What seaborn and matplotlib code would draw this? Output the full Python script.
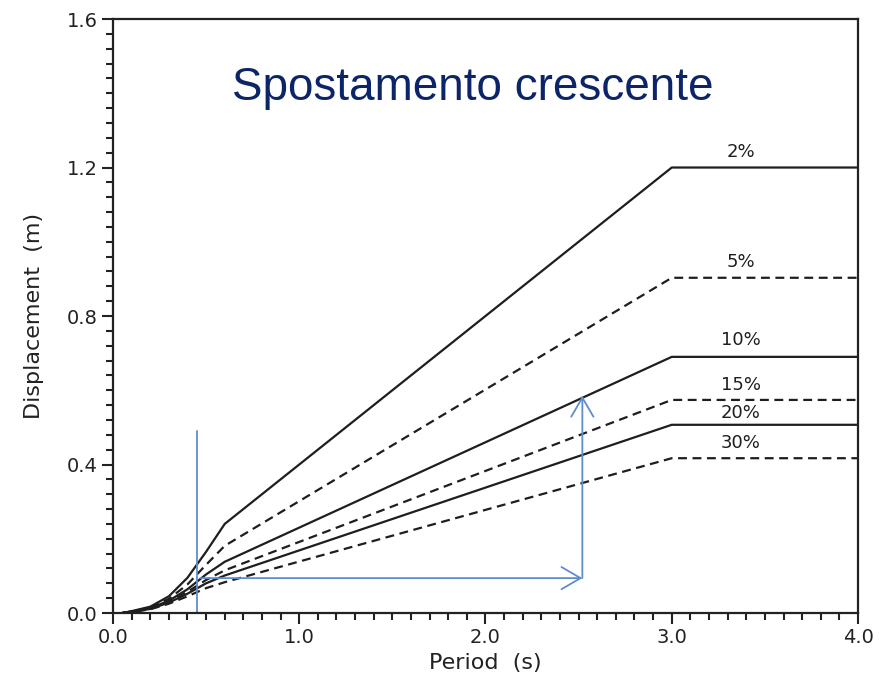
import matplotlib
matplotlib.use("Agg")
import matplotlib.pyplot as plt
from matplotlib.ticker import MultipleLocator, FixedLocator, FixedFormatter
import numpy as np
import pandas as pd
import seaborn as sns

# ---------------- data ----------------
periods = [0.05, 0.1, 0.2, 0.3, 0.4, 0.5, 0.6, 3.0, 4.0]
disp_2 = [0.0, 0.005, 0.017, 0.045, 0.095, 0.165, 0.240, 1.200, 1.200]
disp_5 = [0.0, 0.004, 0.015, 0.038, 0.077, 0.130, 0.181, 0.903, 0.903]
disp_10 = [0.0, 0.004, 0.013, 0.033, 0.064, 0.104, 0.138, 0.690, 0.690]
disp_15 = [0.0, 0.003, 0.012, 0.030, 0.057, 0.089, 0.115, 0.574, 0.574]
disp_20 = [0.0, 0.003, 0.011, 0.028, 0.052, 0.080, 0.101, 0.507, 0.507]
disp_30 = [0.0, 0.003, 0.010, 0.025, 0.045, 0.067, 0.083, 0.417, 0.417]

damping_labels = ["2%", "5%", "10%", "15%", "20%", "30%"]
label_y = [1.243, 0.946, 0.736, 0.615, 0.539, 0.458]
label_x = 3.37

x_ticks = [0.0, 1.0, 2.0, 3.0, 4.0]
x_tick_labels = ["0.0", "1.0", "2.0", "3.0", "4.0"]
y_ticks = [0.0, 0.4, 0.8, 1.2, 1.6]
y_tick_labels = ["0.0", "0.4", "0.8", "1.2", "1.6"]

# annotation (blue) lines
vline_x = 0.45
vline_y = [0.0, 0.49]
harrow_x = [0.47, 2.52]
harrow_y = 0.094
varrow_y = [0.094, 0.585]

title_text = "Spostamento crescente"

# ---------------- styling ----------------
sns.set_style("ticks")
plt.rcParams["font.family"] = ["DejaVu Sans"]

series = [disp_2, disp_5, disp_10, disp_15, disp_20, disp_30]
styles = ["solid", "dashed", "solid", "dashed", "solid", "dashed"]
line_color = "#1e1e1e"
blue = "#5f8ccb"
navy = "#0c2468"

fig = plt.figure(figsize=(8.84, 6.87), dpi=100)
ax = fig.add_axes([0.1278, 0.1077, 0.8428, 0.8646])

for vals, st, lab in zip(series, styles, damping_labels):
    df = pd.DataFrame({"Period": periods, "Disp": vals})
    ls = "-" if st == "solid" else (0, (4.0, 2.5))
    sns.lineplot(data=df, x="Period", y="Disp", ax=ax, color=line_color,
                 linewidth=1.6, linestyle=ls, legend=False)

for lab, yy in zip(damping_labels, label_y):
    ax.text(label_x, yy, lab, ha="center", va="center", fontsize=13,
            color="#1e1e1e")

# blue annotation lines
ax.plot([vline_x, vline_x], vline_y, color=blue, lw=1.3)
ax.annotate("", xy=(harrow_x[1], harrow_y), xytext=(harrow_x[0], harrow_y),
            arrowprops=dict(arrowstyle="->,head_length=0.55,head_width=0.32",
                            mutation_scale=25, lw=1.3, color=blue,
                            shrinkA=0, shrinkB=0))
ax.annotate("", xy=(harrow_x[1], varrow_y[1]), xytext=(harrow_x[1], varrow_y[0]),
            arrowprops=dict(arrowstyle="->,head_length=0.55,head_width=0.32",
                            mutation_scale=25, lw=1.3, color=blue,
                            shrinkA=0, shrinkB=0))

ax.set_xlim(0, 4.0)
ax.set_ylim(0, 1.6)
ax.xaxis.set_major_locator(FixedLocator(x_ticks))
ax.xaxis.set_major_formatter(FixedFormatter(x_tick_labels))
ax.yaxis.set_major_locator(FixedLocator(y_ticks))
ax.yaxis.set_major_formatter(FixedFormatter(y_tick_labels))
ax.xaxis.set_minor_locator(MultipleLocator(0.1))
ax.yaxis.set_minor_locator(MultipleLocator(0.04))
ax.tick_params(which="major", direction="out", length=8, width=1.5,
               labelsize=14, colors="#222222", pad=3)
ax.tick_params(which="minor", direction="out", length=5, width=1.5,
               colors="#222222")
for sp in ax.spines.values():
    sp.set_visible(True)
    sp.set_linewidth(1.6)
    sp.set_color("#222222")

ax.set_xlabel("Period  (s)", fontsize=16, color="#222222", labelpad=4)
ax.set_ylabel("Displacement  (m)", fontsize=16, color="#222222", labelpad=16)

fig.text(232 / 884, 1 - 100 / 687, title_text, ha="left", va="baseline",
         fontsize=33, color=navy, family=["Liberation Sans", "DejaVu Sans"])

fig.savefig("out.png", dpi=100)
